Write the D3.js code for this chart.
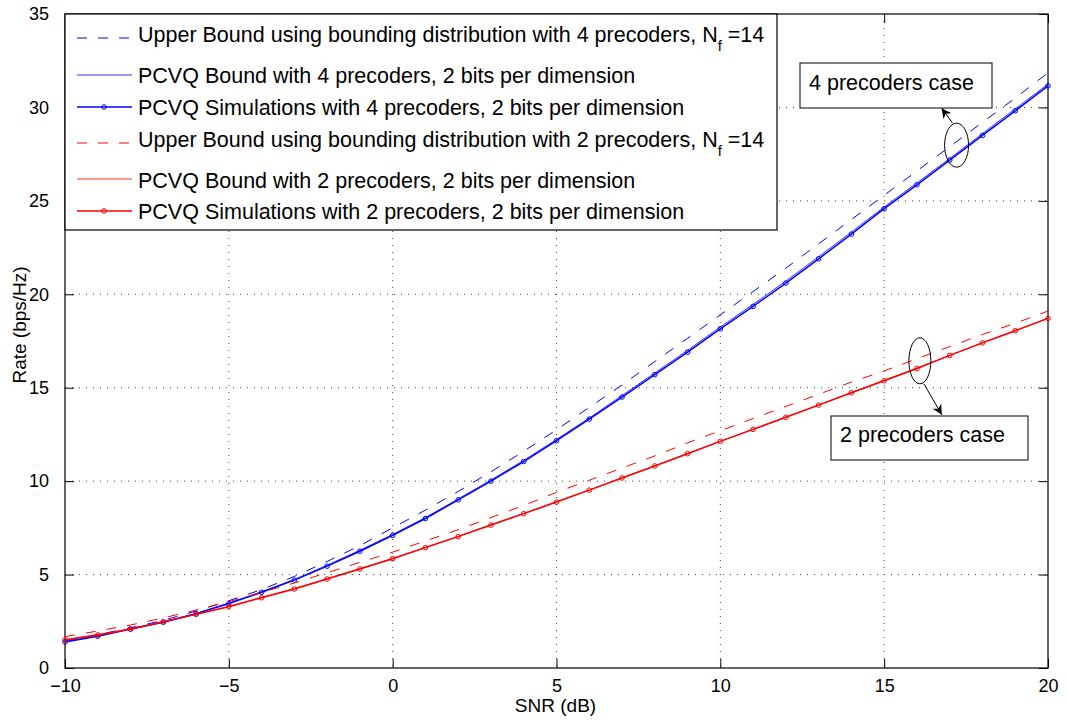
<!DOCTYPE html>
<html>
<head>
<meta charset="utf-8">
<script src="https://cdn.jsdelivr.net/npm/d3@7"></script>
<style>
  body { margin: 0; background: #fff; }
  svg { font-family: "Liberation Sans", Arial, sans-serif; }
</style>
</head>
<body>
<svg id="chart" width="1067" height="724"></svg>
<script>
// SNR points (dB)
const snr = d3.range(-10, 21, 1);

// 4 precoders
const upper4 = [1.45, 1.78, 2.15, 2.55, 3.05, 3.6, 4.2, 4.9, 5.7, 6.55, 7.5, 8.45, 9.45, 10.5, 11.6, 12.75,
  13.95, 15.15, 16.4, 17.65, 18.9, 20.15, 21.4, 22.7, 24.0, 25.3, 26.6, 27.9, 29.2, 30.5, 31.85];
const bound4 = [1.42, 1.72, 2.1, 2.47, 2.92, 3.47, 4.08, 4.74, 5.5, 6.3, 7.15, 8.05, 9.05, 10.06, 11.11, 12.23,
  13.38, 14.58, 15.79, 17.0, 18.25, 19.46, 20.71, 22.01, 23.33, 24.67, 25.96, 27.27, 28.6, 29.92, 31.25];
const sim4 = [1.39, 1.7, 2.09, 2.45, 2.9, 3.45, 4.05, 4.7, 5.45, 6.25, 7.1, 8.0, 9.0, 10.0, 11.05, 12.17,
  13.32, 14.5, 15.7, 16.9, 18.15, 19.35, 20.6, 21.9, 23.22, 24.58, 25.86, 27.18, 28.5, 29.82, 31.15];

// 2 precoders
const upper2 = [1.68, 1.98, 2.3, 2.68, 3.1, 3.55, 4.05, 4.55, 5.1, 5.65, 6.2, 6.8, 7.4, 8.05, 8.7, 9.4,
  10.05, 10.7, 11.35, 12.05, 12.7, 13.35, 14.0, 14.65, 15.3, 15.9, 16.55, 17.2, 17.85, 18.45, 19.1];
const bound2 = [1.52, 1.79, 2.09, 2.49, 2.88, 3.3, 3.78, 4.25, 4.78, 5.32, 5.87, 6.46, 7.05, 7.67, 8.28, 8.9,
  9.53, 10.18, 10.82, 11.48, 12.14, 12.78, 13.43, 14.08, 14.74, 15.4, 16.05, 16.73, 17.41, 18.06, 18.72];
const sim2 = [1.5, 1.77, 2.07, 2.48, 2.87, 3.28, 3.76, 4.23, 4.76, 5.3, 5.85, 6.44, 7.03, 7.65, 8.26, 8.88,
  9.52, 10.17, 10.81, 11.47, 12.13, 12.77, 13.42, 14.07, 14.73, 15.37, 16.03, 16.73, 17.4, 18.05, 18.71];

const xTicks = [-10, -5, 0, 5, 10, 15, 20];
const yTicks = [0, 5, 10, 15, 20, 25, 30, 35];

const legendLabels = [
  "Upper Bound using bounding distribution with 4 precoders, N",
  "PCVQ Bound with 4 precoders, 2 bits per dimension",
  "PCVQ Simulations with 4 precoders, 2 bits per dimension",
  "Upper Bound using bounding distribution with 2 precoders, N",
  "PCVQ Bound with 2 precoders, 2 bits per dimension",
  "PCVQ Simulations with 2 precoders, 2 bits per dimension"
];

const blue = "#0000ff", red = "#ff0000";

const svg = d3.select("#chart");
const margin = { left: 65, top: 14, right: 19, bottom: 56 };
const W = 1067 - margin.left - margin.right;
const H = 724 - margin.top - margin.bottom;

const x = d3.scaleLinear().domain([-10, 20]).range([0, W]);
const y = d3.scaleLinear().domain([0, 35]).range([H, 0]);

const g = svg.append("g").attr("transform", `translate(${margin.left},${margin.top})`);

// grid
g.append("g").selectAll("line").data(xTicks.slice(1, -1)).join("line")
  .attr("x1", d => x(d)).attr("x2", d => x(d)).attr("y1", 0).attr("y2", H)
  .attr("stroke", "#444").attr("stroke-width", 1).attr("stroke-dasharray", "1,6");
g.append("g").selectAll("line").data(yTicks.slice(1, -1)).join("line")
  .attr("y1", d => y(d)).attr("y2", d => y(d)).attr("x1", 0).attr("x2", W)
  .attr("stroke", "#444").attr("stroke-width", 1).attr("stroke-dasharray", "1,6");

// axes (inward ticks, mirrored)
const fmt = d => d < 0 ? "\u2212" + Math.abs(d) : String(d);
g.append("g").attr("transform", `translate(0,${H})`)
  .call(d3.axisBottom(x).tickValues(xTicks).tickSizeInner(-9).tickSizeOuter(0).tickPadding(11).tickFormat(fmt));
g.append("g")
  .call(d3.axisLeft(y).tickValues(yTicks).tickSizeInner(-9).tickSizeOuter(0).tickPadding(16).tickFormat(fmt));
g.append("g").call(d3.axisTop(x).tickValues(xTicks).tickSizeInner(-9).tickSizeOuter(0).tickFormat(""));
g.append("g").attr("transform", `translate(${W},0)`)
  .call(d3.axisRight(y).tickValues(yTicks).tickSizeInner(-9).tickSizeOuter(0).tickFormat(""));
g.selectAll(".domain").remove();
g.selectAll(".tick line").attr("stroke", "#000");
g.selectAll(".tick text").attr("font-size", 18).attr("fill", "#000");
g.append("rect").attr("width", W).attr("height", H).attr("fill", "none").attr("stroke", "#000").attr("stroke-width", 1.2);

// series
const line = d3.line().x((d, i) => x(snr[i])).y(d => y(d));
const series = [
  { data: upper4, color: blue, dash: "10,11", width: 1, marker: false },
  { data: bound4, color: blue, dash: null, width: 1, marker: false, opacity: 0.8 },
  { data: sim4, color: blue, dash: null, width: 1.5, marker: true },
  { data: upper2, color: red, dash: "10,11", width: 1, marker: false },
  { data: bound2, color: red, dash: null, width: 1, marker: false, opacity: 0.8 },
  { data: sim2, color: red, dash: null, width: 1.5, marker: true }
];
series.forEach(s => {
  g.append("path").attr("d", line(s.data)).attr("fill", "none")
    .attr("stroke", s.color).attr("stroke-width", s.width)
    .attr("stroke-dasharray", s.dash).attr("opacity", s.opacity || 1);
  if (s.marker) {
    g.append("g").selectAll("circle").data(s.data).join("circle")
      .attr("cx", (d, i) => x(snr[i])).attr("cy", d => y(d)).attr("r", 2.3)
      .attr("fill", "none").attr("stroke", s.color).attr("stroke-width", 1);
  }
});

// annotations: ellipses, arrows, text boxes
svg.append("defs").append("marker").attr("id", "arrow")
  .attr("viewBox", "0 0 10 10").attr("refX", 10).attr("refY", 5)
  .attr("markerWidth", 10).attr("markerHeight", 10).attr("markerUnits", "userSpaceOnUse")
  .attr("orient", "auto")
  .append("path").attr("d", "M0,0 L10,5 L0,10 L3,5 Z").attr("fill", "#000");

const notes = [
  { ex: 17.21, ey: 27.98, rx: 12, ry: 22, from: [-4, -22], to: [-15, -37],
    box: [800 - margin.left, 63 - margin.top, 192, 45], text: "4 precoders case", base: 27 },
  { ex: 16.09, ey: 16.44, rx: 11, ry: 23, from: [4, 23], to: [22, 54],
    box: [831 - margin.left, 416 - margin.top, 197, 44], text: "2 precoders case", base: 26 }
];
notes.forEach(n => {
  const cx = x(n.ex), cy = y(n.ey);
  g.append("ellipse").attr("cx", cx).attr("cy", cy).attr("rx", n.rx).attr("ry", n.ry)
    .attr("fill", "none").attr("stroke", "#000").attr("stroke-width", 1);
  g.append("line").attr("x1", cx + n.from[0]).attr("y1", cy + n.from[1])
    .attr("x2", cx + n.to[0]).attr("y2", cy + n.to[1])
    .attr("stroke", "#000").attr("stroke-width", 1).attr("marker-end", "url(#arrow)");
  g.append("rect").attr("x", n.box[0]).attr("y", n.box[1]).attr("width", n.box[2]).attr("height", n.box[3])
    .attr("fill", "#fff").attr("stroke", "#000").attr("stroke-width", 1);
  g.append("text").attr("x", n.box[0] + 9).attr("y", n.box[1] + n.base)
    .attr("font-size", 21.5).attr("fill", "#000").text(n.text);
});

// legend
const lg = g.append("g");
lg.append("rect").attr("x", 0).attr("y", 0).attr("width", 712).attr("height", 216)
  .attr("fill", "#fff").attr("stroke", "#000").attr("stroke-width", 1.2);
const rowY = [24, 61, 93, 129, 165, 197];
const textOff = [3.5, 8.3, 8.3, 3.7, 9, 8];
legendLabels.forEach((lab, i) => {
  const s = series[i];
  const ly = rowY[i];
  lg.append("line").attr("x1", 12).attr("x2", 67).attr("y1", ly).attr("y2", ly)
    .attr("stroke", s.color).attr("stroke-width", s.width)
    .attr("stroke-dasharray", s.dash).attr("opacity", s.opacity || 1);
  if (s.marker) {
    lg.append("circle").attr("cx", 39).attr("cy", ly).attr("r", 2.3)
      .attr("fill", "none").attr("stroke", s.color);
  }
  const t = lg.append("text").attr("x", 73).attr("y", ly + textOff[i])
    .attr("font-size", 21.5).attr("fill", "#000");
  t.append("tspan").text(lab);
  if (i === 0 || i === 3) {
    t.append("tspan").attr("dy", 9).attr("font-size", 15).text("f");
    t.append("tspan").attr("dy", -9).text(" =14");
  }
});

// axis labels
svg.append("text").attr("x", margin.left + W / 2 - 1).attr("y", 712).attr("text-anchor", "middle")
  .attr("font-size", 19).attr("fill", "#000").text("SNR (dB)");
svg.append("text").attr("transform", `translate(26,${margin.top + H / 2 - 16}) rotate(-90)`)
  .attr("text-anchor", "middle").attr("font-size", 19).attr("fill", "#000").text("Rate (bps/Hz)");
</script>
</body>
</html>
